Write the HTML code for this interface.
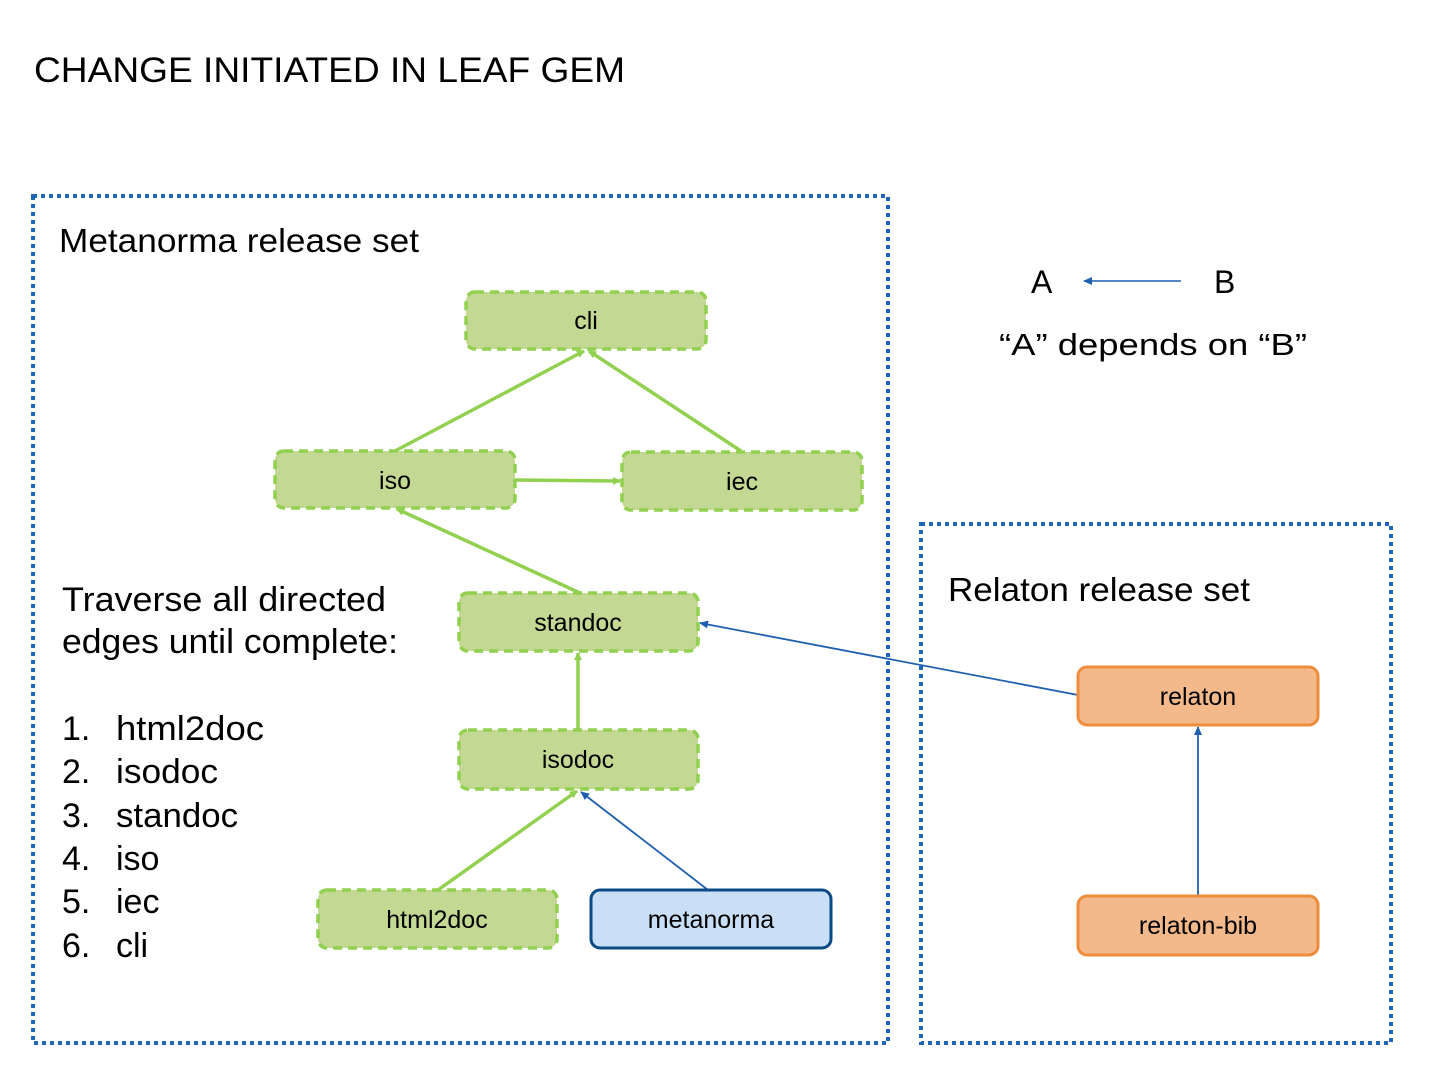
<!DOCTYPE html>
<html><head><meta charset="utf-8"><style>html,body{margin:0;padding:0;background:#fff}svg{display:block}</style></head>
<body>
<svg width="1440" height="1080" viewBox="0 0 1440 1080" xmlns="http://www.w3.org/2000/svg" font-family="'Liberation Sans', sans-serif">
<defs>
<marker id="ag" markerWidth="8" markerHeight="8" refX="7" refY="4" orient="auto" markerUnits="userSpaceOnUse"><path d="M0,0 L8,4 L0,8 z" fill="#92d050"/></marker>
<marker id="ab" markerWidth="9" markerHeight="8" refX="8" refY="4" orient="auto" markerUnits="userSpaceOnUse"><path d="M0,0 L9,4 L0,8 z" fill="#1f5fb0"/></marker>
</defs>
<text x="34" y="82" font-size="35" textLength="591" lengthAdjust="spacingAndGlyphs">CHANGE INITIATED IN LEAF GEM</text>

<rect x="33" y="196" width="855" height="847" fill="none" stroke="#1f66b8" stroke-width="4" stroke-dasharray="4 4"/>
<rect x="921" y="524" width="470" height="519" fill="none" stroke="#1f66b8" stroke-width="4" stroke-dasharray="4 4"/>

<text x="59" y="252" font-size="33" textLength="360" lengthAdjust="spacingAndGlyphs">Metanorma release set</text>
<text x="948" y="601" font-size="33" textLength="302" lengthAdjust="spacingAndGlyphs">Relaton release set</text>

<g font-size="34">
<text x="62" y="611" textLength="324" lengthAdjust="spacingAndGlyphs">Traverse all directed</text>
<text x="62" y="653" textLength="336" lengthAdjust="spacingAndGlyphs">edges until complete:</text>
<text x="62" y="740">1.</text><text x="116" y="740" textLength="148" lengthAdjust="spacingAndGlyphs">html2doc</text>
<text x="62" y="783">2.</text><text x="116" y="783" textLength="102" lengthAdjust="spacingAndGlyphs">isodoc</text>
<text x="62" y="827">3.</text><text x="116" y="827" textLength="122" lengthAdjust="spacingAndGlyphs">standoc</text>
<text x="62" y="870">4.</text><text x="116" y="870">iso</text>
<text x="62" y="913">5.</text><text x="116" y="913">iec</text>
<text x="62" y="957">6.</text><text x="116" y="957">cli</text>
</g>

<!-- legend -->
<text x="1031" y="293" font-size="32">A</text>
<text x="1214" y="293" font-size="32">B</text>
<line x1="1181" y1="281" x2="1084" y2="281" stroke="#1f5fb0" stroke-width="1.5" marker-end="url(#ab)"/>
<text x="1153" y="355" font-size="31" text-anchor="middle" textLength="308" lengthAdjust="spacingAndGlyphs">“A” depends on “B”</text>

<!-- edges -->
<g stroke="#92d050" stroke-width="3.5" fill="none">
<line x1="395" y1="451" x2="584" y2="351" marker-end="url(#ag)"/>
<line x1="741" y1="451" x2="589" y2="351" marker-end="url(#ag)"/>
<line x1="515" y1="480" x2="620" y2="481" marker-end="url(#ag)"/>
<line x1="580" y1="593" x2="397" y2="509" marker-end="url(#ag)"/>
<line x1="578" y1="730" x2="578" y2="653" marker-end="url(#ag)"/>
<line x1="438" y1="890" x2="577" y2="791" marker-end="url(#ag)"/>
</g>
<g stroke="#1f5fb0" stroke-width="1.8" fill="none">
<line x1="708" y1="890" x2="581" y2="792" marker-end="url(#ab)"/>
<line x1="1078" y1="695" x2="700" y2="623" marker-end="url(#ab)"/>
<line x1="1198" y1="896" x2="1198" y2="727" marker-end="url(#ab)"/>
</g>

<!-- nodes -->
<g fill="#c3d893" stroke="#92d050" stroke-width="3.5" stroke-dasharray="9 6">
<rect x="466" y="292" width="240" height="57" rx="9"/>
<rect x="275" y="451" width="240" height="57" rx="9"/>
<rect x="622" y="452" width="240" height="58" rx="9"/>
<rect x="459" y="593" width="239" height="58" rx="9"/>
<rect x="459" y="730" width="239" height="59" rx="9"/>
<rect x="318" y="890" width="239" height="58" rx="9"/>
</g>
<rect x="591" y="890" width="240" height="58" rx="9" fill="#c9dff7" stroke="#0b4a85" stroke-width="3"/>
<rect x="1078" y="667" width="240" height="58" rx="9" fill="#f4b98a" stroke="#ed8d3b" stroke-width="3"/>
<rect x="1078" y="896" width="240" height="59" rx="9" fill="#f4b98a" stroke="#ed8d3b" stroke-width="3"/>

<g font-size="25" text-anchor="middle">
<text x="586" y="329">cli</text>
<text x="395" y="489">iso</text>
<text x="742" y="490">iec</text>
<text x="578" y="631">standoc</text>
<text x="578" y="768">isodoc</text>
<text x="437" y="928">html2doc</text>
<text x="711" y="928">metanorma</text>
<text x="1198" y="705">relaton</text>
<text x="1198" y="934">relaton-bib</text>
</g>
</svg>
</body></html>
